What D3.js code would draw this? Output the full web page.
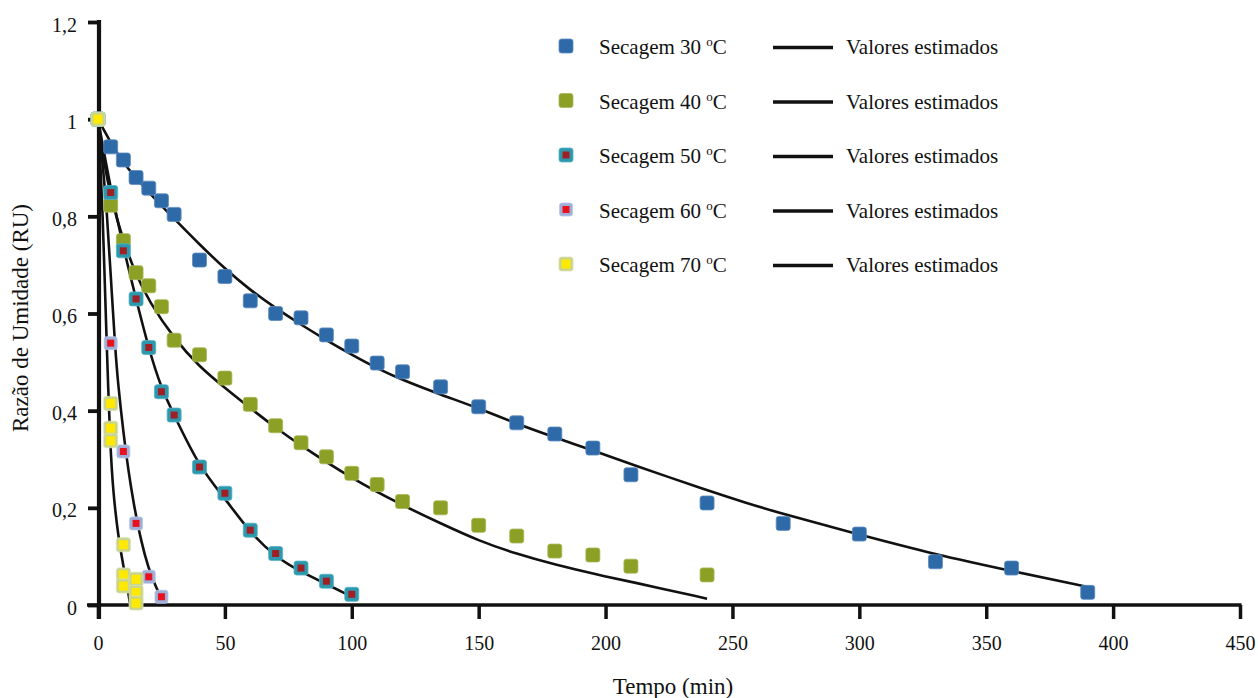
<!DOCTYPE html>
<html>
<head>
<meta charset="utf-8">
<script src="https://cdn.jsdelivr.net/npm/d3@7"></script>
<style>
  html, body { margin: 0; padding: 0; background: #fff; }
  svg { display: block; }
  svg text { font-family: "Times New Roman", "Liberation Serif", Tinos, "DejaVu Serif", serif; fill: #111; }
</style>
</head>
<body>
<svg id="chart" width="1258" height="698"></svg>
<script>
// ---------- DATA ----------
const time30 = [0,5,10,15,20,25,30,40,50,60,70,80,90,100,110,120,135,150,165,180,195,210,240,270,300,330,360,390];
const ru30   = [1,0.943,0.916,0.880,0.858,0.832,0.804,0.710,0.676,0.626,0.600,0.591,0.556,0.533,0.498,0.480,0.449,0.408,0.375,0.352,0.323,0.268,0.210,0.168,0.146,0.089,0.076,0.026];

const time40 = [0,5,10,15,20,25,30,40,50,60,70,80,90,100,110,120,135,150,165,180,195,210,240];
const ru40   = [1,0.823,0.750,0.684,0.657,0.614,0.545,0.515,0.467,0.413,0.369,0.334,0.305,0.271,0.248,0.213,0.200,0.164,0.142,0.111,0.103,0.080,0.062];

const time50 = [0,5,10,15,20,25,30,40,50,60,70,80,90,100];
const ru50   = [1,0.849,0.729,0.630,0.530,0.439,0.391,0.284,0.230,0.154,0.106,0.076,0.049,0.022];

const time60 = [0,5,10,15,20,25];
const ru60   = [1,0.539,0.316,0.168,0.058,0.017];

const time70 = [0,5,5,5,10,10,10,15,15,15];
const ru70   = [1,0.415,0.364,0.338,0.124,0.062,0.039,0.053,0.026,0.004];

// estimated (model) curves
const fitTime30 = [0,5,10,20,30,40,50,60,70,80,90,100,110,120,135,150,165,180,195,210,240,255,270,300,330,360,390];
const fitRU30   = [1,0.952,0.908,0.849,0.795,0.742,0.692,0.648,0.611,0.577,0.545,0.515,0.487,0.463,0.433,0.405,0.373,0.345,0.318,0.290,0.236,0.211,0.187,0.145,0.104,0.070,0.037];

const fitTime40 = [0,2,5,10,15,20,30,40,50,60,70,80,100,120,135,150,165,180,197,210,240];
const fitRU40   = [1,0.92,0.84,0.748,0.680,0.626,0.548,0.490,0.447,0.405,0.365,0.328,0.260,0.205,0.168,0.132,0.105,0.083,0.062,0.048,0.013];

const fitTime50 = [0,5,10,15,20,25,30,40,50,60,70,80,90,100];
const fitRU50   = [1,0.856,0.735,0.630,0.527,0.445,0.391,0.283,0.220,0.148,0.099,0.068,0.043,0.017];

const fitTime60 = [0,2,3.5,5,6.8,8,10,12,14,17,20,22,25];
const fitRU60   = [1,0.90,0.81,0.68,0.525,0.45,0.355,0.275,0.21,0.13,0.074,0.048,0.012];

const fitTime70 = [0,1,1.8,2.7,3.5,4.8,6,8,10,12,12.5];
const fitRU70   = [1,0.90,0.81,0.66,0.525,0.33,0.23,0.14,0.08,0.025,0.005];

const legendTemps = ["30","40","50","60","70"];
const fitLabel = "Valores estimados";
const xTicks = [0,50,100,150,200,250,300,350,400,450];
const yTicks = [0,0.2,0.4,0.6,0.8,1.0,1.2];
const xTitle = "Tempo (min)";
const yTitle = "Razão de Umidade (RU)";

// ---------- STYLES ----------
const FONT = '"Times New Roman", "Liberation Serif", Tinos, "DejaVu Serif", serif';
const styles = [
  { outer: "#2d6aa7", edge: "#5d8cc0", size: 14, inner: null },
  { outer: "#8ba024", edge: "#a8b85a", size: 14, inner: null },
  { outer: "#2b98ae", edge: "#5ab3c4", size: 14, inner: "#a01f25", innerSize: 7 },
  { outer: "#9eb0d9", edge: "#b8c6e6", size: 13, inner: "#e8121e", innerSize: 7 },
  { outer: "#c8d48e", edge: "#d9e1ae", size: 14, inner: "#ffe900", innerSize: 9 }
];

const series = [
  { t: time30, v: ru30, ft: fitTime30, fv: fitRU30 },
  { t: time40, v: ru40, ft: fitTime40, fv: fitRU40 },
  { t: time50, v: ru50, ft: fitTime50, fv: fitRU50 },
  { t: time60, v: ru60, ft: fitTime60, fv: fitRU60 },
  { t: time70, v: ru70, ft: fitTime70, fv: fitRU70 }
];

// ---------- CHART ----------
const svg = d3.select("#chart");
const x = d3.scaleLinear().domain([0, 450]).range([98, 1240]);
const y = d3.scaleLinear().domain([0, 1.2]).range([605, 22]);

const axisColor = "#111";

// x axis ticks + labels
const gx = svg.append("g").attr("transform", `translate(0,${y(0)})`)
  .call(d3.axisBottom(x).tickValues(xTicks).tickSize(14).tickFormat(d3.format("d")));
gx.attr("font-family", FONT);
gx.select(".domain").remove();
gx.selectAll(".tick line").attr("stroke", axisColor).attr("stroke-width", 3.5);
gx.selectAll(".tick text").attr("font-size", 20).attr("dy", 0).attr("y", 45)
  .attr("font-family", FONT).attr("fill", "#111");

// y axis ticks + labels
const fmtY = d => d === 0 ? "0" : (Math.abs(d - 1) < 1e-9 ? "1" : d3.format(".1f")(d).replace(".", ","));
const gy = svg.append("g").attr("transform", `translate(${x(0) + 1},0)`)
  .call(d3.axisLeft(y).tickValues(yTicks).tickSize(11).tickFormat(fmtY));
gy.attr("font-family", FONT);
gy.select(".domain").remove();
gy.selectAll(".tick line").attr("stroke", axisColor).attr("stroke-width", 3.8);
gy.selectAll(".tick text").attr("font-size", 20).attr("x", -22).attr("dy", "0.45em")
  .attr("font-family", FONT).attr("fill", "#111");

// axis lines
svg.append("line")
  .attr("x1", x(0) - 11).attr("x2", x(450) + 1.5)
  .attr("y1", y(0)).attr("y2", y(0))
  .attr("stroke", axisColor).attr("stroke-width", 3.6);
svg.append("line")
  .attr("x1", x(0) + 1).attr("x2", x(0) + 1)
  .attr("y1", y(1.2) - 2).attr("y2", y(0) + 14)
  .attr("stroke", axisColor).attr("stroke-width", 4.2);

// estimated curves
const line = d3.line().x(d => x(d[0])).y(d => y(d[1])).curve(d3.curveBasis);
series.forEach(s => {
  const pts = s.ft.map((t, i) => [t, s.fv[i]]);
  svg.append("path").attr("d", line(pts))
    .attr("fill", "none").attr("stroke", "#111").attr("stroke-width", 2.6);
});

// markers
function marker(g, cx, cy, st) {
  g.append("rect")
    .attr("x", cx - st.size / 2).attr("y", cy - st.size / 2)
    .attr("width", st.size).attr("height", st.size)
    .attr("rx", 2.5)
    .attr("fill", st.outer).attr("stroke", st.edge).attr("stroke-width", 0.8);
  if (st.inner) {
    g.append("rect")
      .attr("x", cx - st.innerSize / 2).attr("y", cy - st.innerSize / 2)
      .attr("width", st.innerSize).attr("height", st.innerSize)
      .attr("fill", st.inner);
  }
}

const gm = svg.append("g");
series.forEach((s, k) => {
  s.t.forEach((t, i) => marker(gm, x(t), y(s.v[i]), styles[k]));
});

// legend
const legendY0 = 46, legendStep = 54.5;
const gl = svg.append("g").attr("font-family", FONT);
legendTemps.forEach((tmp, k) => {
  const cy = legendY0 + k * legendStep;
  marker(gl, 566, cy, styles[k]);
  const t = gl.append("text").attr("x", 599).attr("y", cy + 8).attr("font-size", 21).attr("font-family", FONT);
  t.append("tspan").text(`Secagem ${tmp} `);
  t.append("tspan").text("o").attr("font-size", 13).attr("dy", -8);
  t.append("tspan").text("C").attr("dy", 8);
  gl.append("line").attr("x1", 773).attr("x2", 833).attr("y1", cy + 1.5).attr("y2", cy + 1.5)
    .attr("stroke", "#111").attr("stroke-width", 3.6);
  gl.append("text").attr("x", 846).attr("y", cy + 8).attr("font-size", 21).attr("font-family", FONT).text(fitLabel);
});

// axis titles
svg.append("text").attr("x", 673).attr("y", 694).attr("text-anchor", "middle")
  .attr("font-size", 23).attr("font-family", FONT).text(xTitle);
svg.append("text").attr("transform", "translate(28,318) rotate(-90)")
  .attr("text-anchor", "middle").attr("font-size", 23).attr("font-family", FONT).text(yTitle);
</script>
</body>
</html>
